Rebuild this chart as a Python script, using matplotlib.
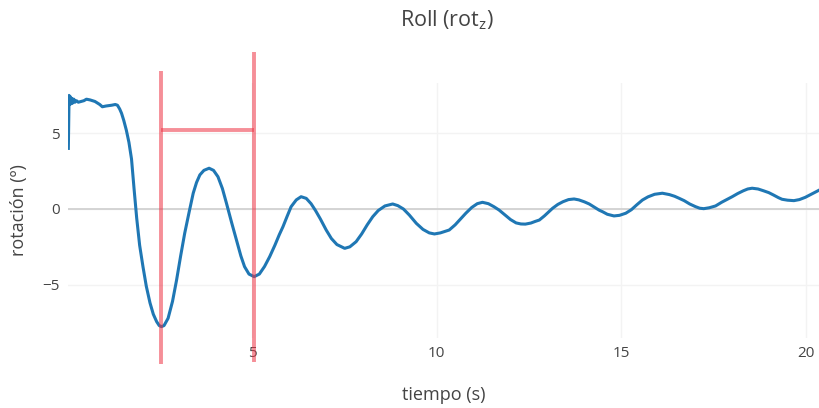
import matplotlib
matplotlib.use('Agg')
import numpy as np
from matplotlib import pyplot as plt

# roll angle trace (tiempo s, rotacion deg)
tiempo = [0.03, 0.05, 0.07, 0.09, 0.11, 0.13, 0.15, 0.18, 0.21, 0.25,
          0.30, 0.38, 0.45, 0.52, 0.62, 0.75, 0.88, 0.95, 1.05, 1.20,
          1.30, 1.36, 1.42, 1.47, 1.53, 1.60, 1.67, 1.74, 1.81, 1.88,
          1.96, 2.05, 2.14, 2.24, 2.33, 2.42, 2.49, 2.55, 2.62, 2.73,
          2.85, 2.96, 3.07, 3.18, 3.30, 3.41, 3.50, 3.59, 3.70, 3.84,
          3.96, 4.08, 4.20, 4.31, 4.45, 4.58, 4.70, 4.80, 4.92, 5.06,
          5.20, 5.34, 5.48, 5.62, 5.74, 5.84, 5.95, 6.06, 6.20, 6.33,
          6.47, 6.60, 6.72, 6.85, 7.01, 7.15, 7.30, 7.51, 7.65, 7.82,
          7.97, 8.12, 8.27, 8.42, 8.60, 8.81, 8.95, 9.10, 9.26, 9.45,
          9.63, 9.80, 9.94, 10.10, 10.20, 10.34, 10.50, 10.65, 10.79, 10.95,
          11.10, 11.24, 11.40, 11.55, 11.69, 11.85, 12.00, 12.15, 12.28, 12.40,
          12.55, 12.67, 12.78, 12.92, 13.03, 13.14, 13.28, 13.42, 13.57, 13.72,
          13.85, 14.00, 14.13, 14.28, 14.40, 14.49, 14.62, 14.80, 14.95, 15.12,
          15.27, 15.42, 15.57, 15.72, 15.90, 16.11, 16.30, 16.44, 16.56, 16.70,
          16.85, 17.01, 17.12, 17.23, 17.38, 17.55, 17.72, 17.86, 18.00, 18.15,
          18.30, 18.42, 18.54, 18.70, 18.85, 18.99, 19.12, 19.25, 19.35, 19.50,
          19.67, 19.82, 19.98, 20.12, 20.25, 20.40]
rotacion = [4.0, 7.5, 6.9, 7.4, 6.95, 7.3, 7.0, 7.25, 7.05, 7.15,
            7.05, 7.1, 7.15, 7.25, 7.2, 7.1, 6.9, 6.75, 6.8, 6.85,
            6.9, 6.85, 6.6, 6.32, 5.85, 5.2, 4.4, 3.3, 1.3, -0.6,
            -2.4, -3.81, -5.1, -6.2, -6.95, -7.44, -7.7, -7.77, -7.7, -7.22,
            -6.1, -4.69, -3.1, -1.6, -0.2, 1.04, 1.75, 2.25, 2.55, 2.69,
            2.55, 2.13, 1.35, 0.38, -0.9, -2.05, -3.1, -3.81, -4.3, -4.47,
            -4.3, -3.8, -3.15, -2.4, -1.7, -1.17, -0.5, 0.15, 0.6, 0.81,
            0.7, 0.35, -0.1, -0.65, -1.39, -1.95, -2.35, -2.6, -2.5, -2.16,
            -1.65, -1.05, -0.51, -0.1, 0.2, 0.33, 0.22, 0.0, -0.4, -0.95,
            -1.35, -1.58, -1.65, -1.58, -1.5, -1.39, -1.05, -0.65, -0.28, 0.1,
            0.35, 0.44, 0.35, 0.15, -0.07, -0.4, -0.7, -0.92, -0.99, -1.0,
            -0.93, -0.82, -0.73, -0.45, -0.2, 0.05, 0.3, 0.48, 0.62, 0.66,
            0.6, 0.47, 0.33, 0.1, -0.08, -0.18, -0.35, -0.46, -0.42, -0.28,
            -0.05, 0.28, 0.59, 0.8, 0.97, 1.04, 0.95, 0.84, 0.71, 0.55,
            0.33, 0.15, 0.05, 0.02, 0.08, 0.2, 0.45, 0.63, 0.81, 1.02,
            1.2, 1.32, 1.37, 1.32, 1.2, 1.08, 0.92, 0.75, 0.64, 0.58,
            0.55, 0.62, 0.77, 0.95, 1.12, 1.3]

# red period markers
marca_x = [2.55, 5.06]
marca_ymin = [-10.24, -10.08]
marca_ymax = [9.13, 10.39]
marca_h = 5.2

x_ticks = [5, 10, 15, 20]
y_ticks = [-5, 0, 5]

plt.rcParams['font.family'] = ['Open Sans', 'DejaVu Sans']
gris = '#444444'

fig = plt.figure(figsize=(8.19, 4.08), dpi=100)
ax = fig.add_axes([0.083, 0.1716, 0.917, 0.625])

ax.plot(tiempo, rotacion, color='#1f77b4', lw=2.2, zorder=3, solid_joinstyle='round')

for xm, y0, y1 in zip(marca_x, marca_ymin, marca_ymax):
    ax.plot([xm, xm], [y0, y1], color='#ee3344', alpha=0.55, lw=2.8,
            clip_on=False, zorder=4, solid_capstyle='butt')
ax.plot(marca_x, [marca_h, marca_h], color='#ee3344', alpha=0.55, lw=2.8,
        clip_on=False, zorder=4, solid_capstyle='butt')

ax.set_xlim(0.02, 20.35)
ax.set_ylim(-8.52, 8.32)
ax.set_xticks(x_ticks)
ax.set_yticks(y_ticks)
ax.set_yticklabels(['\u22125', '0', '5'])
ax.grid(True, color='#f3f3f3', lw=1)
ax.axhline(0, color='#d4d4d4', lw=1.4, zorder=2)
for s in ax.spines.values():
    s.set_visible(False)
ax.tick_params(length=0, colors=gris, labelsize=11, pad=6)
ax.tick_params(axis='x', pad=6)

ax.set_xlabel('tiempo (s)', color=gris, fontsize=13, labelpad=18)
ax.set_ylabel('rotación (º)', color=gris, fontsize=13, labelpad=10)
fig.text(0.546, 0.95, r'Roll (rot$_\mathregular{z}$)', ha='center', va='center',
         color=gris, fontsize=15.5)

fig.savefig('out.png', dpi=100, facecolor='white')
